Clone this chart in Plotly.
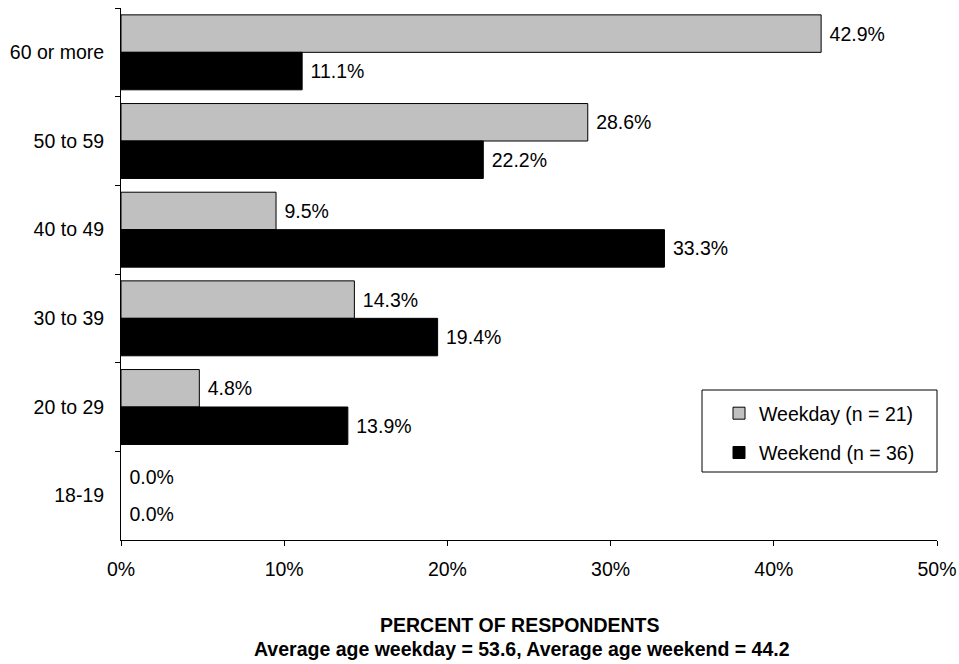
import plotly.graph_objects as go

# Age groups, top to bottom
age_groups = ["60 or more", "50 to 59", "40 to 49", "30 to 39", "20 to 29", "18-19"]

# Share of respondents in each age group (%)
weekday_pct = [42.9, 28.6, 9.5, 14.3, 4.8, 0.0]
weekend_pct = [11.1, 22.2, 33.3, 19.4, 13.9, 0.0]

x_ticks = [0, 10, 20, 30, 40, 50]
x_tick_labels = ["0%", "10%", "20%", "30%", "40%", "50%"]

font_family = "Liberation Sans, Arial, sans-serif"
FS = 19.5

fig = go.Figure()

series = [
    ("Weekday (n = 21)", weekday_pct, "#c0c0c0", "a"),
    ("Weekend (n = 36)", weekend_pct, "#000000", "b"),
]
for name, vals, color, grp in series:
    fig.add_trace(go.Bar(
        y=age_groups, x=vals, orientation="h", name=name, legendgroup=grp,
        marker=dict(
            color=color,
            line=dict(color="#000000", width=[1 if v > 0 else 0 for v in vals]),
        ),
        text=["\u00a0" + f"{v:.1f}%" for v in vals], textposition="outside",
        textfont=dict(size=FS, color="#000000"), cliponaxis=False,
    ))

# Legend frame
fig.add_shape(
    type="rect", xref="paper", yref="paper",
    x0=(702 - 121) / 816, x1=1.0, y0=(540 - 472) / 532, y1=(540 - 390) / 532,
    line=dict(color="#000000", width=1), fillcolor="white", layer="below",
)

# Axis title lines
fig.add_annotation(
    text="<b>PERCENT OF RESPONDENTS</b>", xref="paper", yref="paper",
    x=(520 - 121) / 816, y=-85 / 532, xanchor="center", yanchor="middle",
    showarrow=False, font=dict(size=FS, color="#000000"),
)
fig.add_annotation(
    text="<b>Average age weekday = 53.6, Average age weekend = 44.2</b>",
    xref="paper", yref="paper",
    x=(522 - 121) / 816, y=-109 / 532, xanchor="center", yanchor="middle",
    showarrow=False, font=dict(size=FS, color="#000000"),
)

fig.update_layout(
    width=959, height=664,
    margin=dict(l=121, r=22, t=8, b=124, autoexpand=False),
    paper_bgcolor="white", plot_bgcolor="white",
    font=dict(family=font_family, size=FS, color="#000000"),
    barmode="group", bargap=0.155, bargroupgap=0,
    legend=dict(
        x=(719 - 121) / 816, xanchor="left", y=(540 - 394) / 532, yanchor="top",
        borderwidth=0, bgcolor="rgba(0,0,0,0)",
        font=dict(size=FS), tracegroupgap=11,
    ),
    xaxis=dict(
        range=[0, 50], tickvals=x_ticks, ticktext=x_tick_labels,
        showgrid=False, zeroline=False, automargin=False,
        showline=True, linecolor="#000000", linewidth=1,
        ticks="outside", ticklen=5, tickcolor="#000000",
        tickfont=dict(size=FS), ticklabelstandoff=7,
    ),
    yaxis=dict(
        categoryorder="array", categoryarray=age_groups, autorange="reversed",
        showgrid=False, zeroline=False, automargin=False,
        showline=True, linecolor="#000000", linewidth=1,
        ticks="outside", ticklen=5, tickcolor="#000000",
        tickson="boundaries", tickfont=dict(size=FS), ticklabelstandoff=12,
    ),
)

fig.write_html("out.html")
